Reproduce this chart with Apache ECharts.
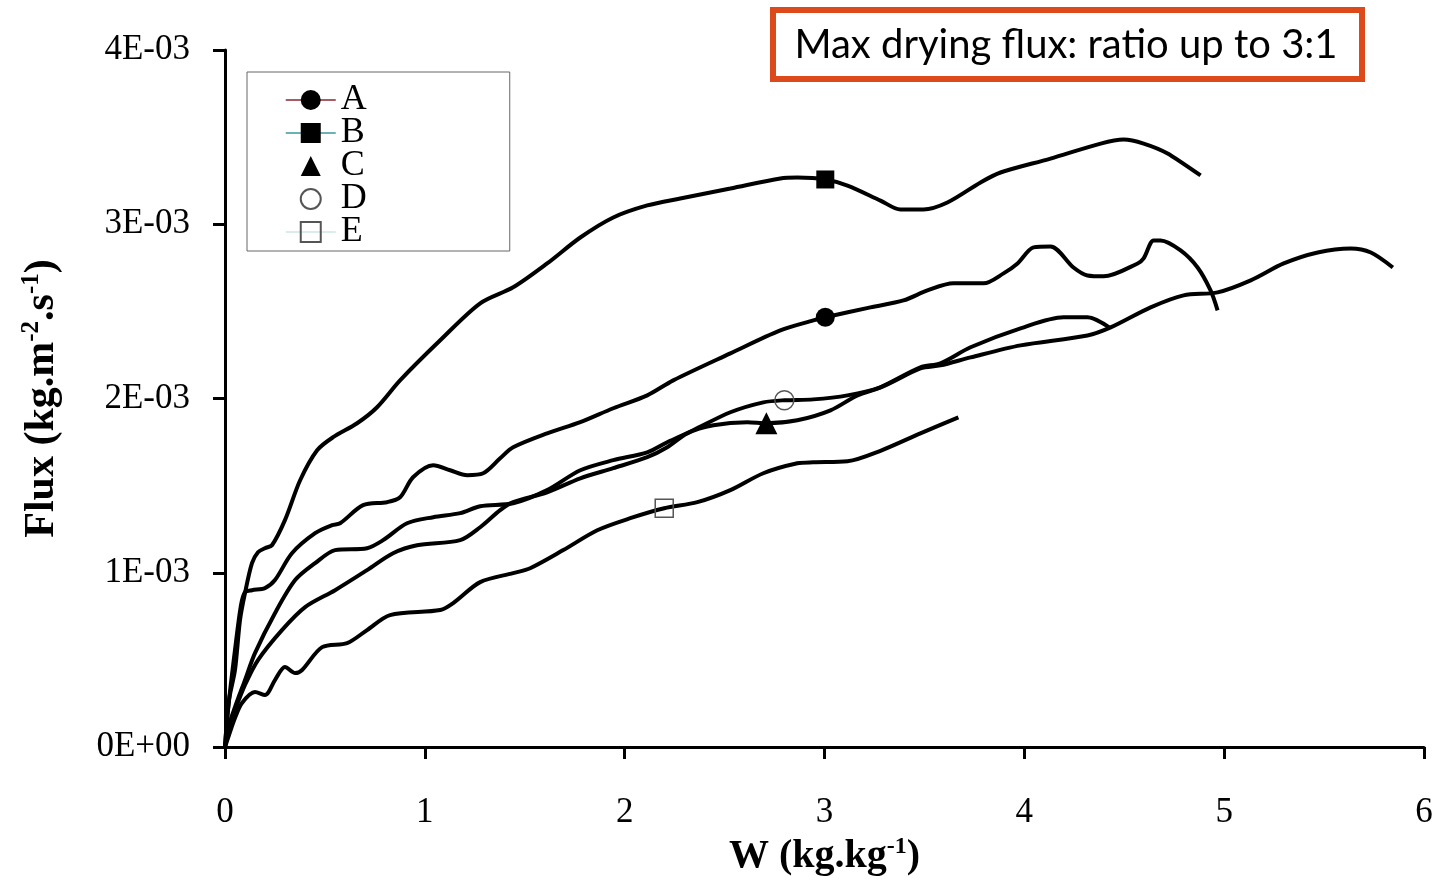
<!DOCTYPE html>
<html><head><meta charset="utf-8">
<script src="https://cdn.jsdelivr.net/npm/echarts@6/dist/echarts.min.js"></script>
<style>html,body{margin:0;padding:0;background:#fff}#chart{width:1439px;height:882px}</style>
</head><body><div id="chart"></div>
<script>
const seriesNames = ['A', 'B', 'C', 'D', 'E'];
const xTicks = [0, 1, 2, 3, 4, 5, 6];
const yTickLabels = ['0E+00', '1E-03', '2E-03', '3E-03', '4E-03'];
const titleText = 'Max drying flux: ratio up to 3:1';

// W (kg/kg), Flux (kg m-2 s-1)
const curveA = [[0,0],[0.015,0.212e-3],[0.05,0.556e-3],[0.08,0.814e-3],[0.100,0.889e-3],[0.135,0.900e-3],[0.200,0.912e-3],[0.250,0.958e-3],[0.335,1.112e-3],[0.451,1.227e-3],[0.536,1.273e-3],[0.576,1.284e-3],[0.691,1.388e-3],[0.811,1.405e-3],[0.876,1.433e-3],[0.941,1.548e-3],[1.042,1.617e-3],[1.127,1.588e-3],[1.212,1.560e-3],[1.292,1.571e-3],[1.377,1.657e-3],[1.442,1.720e-3],[1.612,1.800e-3],[1.778,1.864e-3],[1.943,1.944e-3],[2.113,2.018e-3],[2.243,2.104e-3],[2.529,2.259e-3],[2.779,2.391e-3],[2.944,2.448e-3],[3.004,2.466e-3],[3.230,2.523e-3],[3.395,2.563e-3],[3.515,2.620e-3],[3.645,2.661e-3],[3.796,2.661e-3],[3.896,2.718e-3],[3.966,2.775e-3],[4.046,2.867e-3],[4.131,2.873e-3],[4.246,2.752e-3],[4.316,2.706e-3],[4.397,2.701e-3],[4.567,2.775e-3],[4.597,2.804e-3],[4.647,2.907e-3],[4.682,2.907e-3],[4.782,2.850e-3],[4.867,2.752e-3],[4.932,2.620e-3],[4.967,2.506e-3]];
const curveB = [[0,0],[0.020,0.269e-3],[0.050,0.442e-3],[0.075,0.728e-3],[0.100,0.883e-3],[0.135,1.055e-3],[0.165,1.118e-3],[0.200,1.141e-3],[0.235,1.158e-3],[0.300,1.302e-3],[0.376,1.531e-3],[0.461,1.703e-3],[0.541,1.778e-3],[0.661,1.858e-3],[0.761,1.950e-3],[0.876,2.104e-3],[1.077,2.334e-3],[1.277,2.546e-3],[1.442,2.638e-3],[1.612,2.775e-3],[1.778,2.924e-3],[1.943,3.039e-3],[2.113,3.108e-3],[2.278,3.148e-3],[2.529,3.205e-3],[2.779,3.263e-3],[2.864,3.268e-3],[3.004,3.257e-3],[3.115,3.222e-3],[3.280,3.136e-3],[3.380,3.085e-3],[3.495,3.085e-3],[3.615,3.125e-3],[3.781,3.240e-3],[3.881,3.297e-3],[4.131,3.377e-3],[4.382,3.463e-3],[4.497,3.486e-3],[4.597,3.463e-3],[4.717,3.406e-3],[4.882,3.280e-3]];
const curveC = [[0,0],[0.020,0.109e-3],[0.050,0.212e-3],[0.100,0.356e-3],[0.165,0.499e-3],[0.285,0.671e-3],[0.401,0.803e-3],[0.551,0.900e-3],[0.711,1.015e-3],[0.841,1.112e-3],[0.961,1.158e-3],[1.177,1.187e-3],[1.277,1.261e-3],[1.377,1.359e-3],[1.442,1.405e-3],[1.612,1.462e-3],[1.778,1.542e-3],[1.943,1.600e-3],[2.113,1.663e-3],[2.213,1.720e-3],[2.313,1.800e-3],[2.444,1.846e-3],[2.614,1.864e-3],[2.709,1.858e-3],[2.864,1.875e-3],[3.030,1.932e-3],[3.165,2.018e-3],[3.280,2.064e-3],[3.480,2.179e-3],[3.580,2.202e-3],[3.731,2.294e-3],[3.981,2.402e-3],[4.196,2.466e-3],[4.316,2.466e-3],[4.432,2.402e-3]];
const curveD = [[0,0],[0.020,0.126e-3],[0.050,0.229e-3],[0.100,0.384e-3],[0.150,0.539e-3],[0.250,0.768e-3],[0.351,0.958e-3],[0.451,1.055e-3],[0.551,1.130e-3],[0.711,1.141e-3],[0.791,1.187e-3],[0.911,1.284e-3],[1.042,1.319e-3],[1.177,1.342e-3],[1.277,1.382e-3],[1.442,1.399e-3],[1.612,1.474e-3],[1.778,1.588e-3],[1.943,1.646e-3],[2.113,1.691e-3],[2.213,1.749e-3],[2.343,1.818e-3],[2.529,1.921e-3],[2.694,1.978e-3],[2.799,1.990e-3],[2.944,1.995e-3],[3.115,2.018e-3],[3.280,2.064e-3],[3.480,2.173e-3],[3.580,2.190e-3],[3.731,2.236e-3],[3.981,2.305e-3],[4.316,2.362e-3],[4.432,2.408e-3],[4.632,2.523e-3],[4.797,2.592e-3],[4.967,2.609e-3],[5.133,2.678e-3],[5.298,2.775e-3],[5.468,2.838e-3],[5.633,2.861e-3],[5.734,2.838e-3],[5.844,2.752e-3]];
const curveE = [[0,0],[0.020,0.069e-3],[0.050,0.166e-3],[0.085,0.252e-3],[0.150,0.315e-3],[0.200,0.298e-3],[0.250,0.384e-3],[0.300,0.459e-3],[0.351,0.424e-3],[0.386,0.442e-3],[0.486,0.573e-3],[0.611,0.596e-3],[0.711,0.671e-3],[0.826,0.757e-3],[1.077,0.786e-3],[1.142,0.826e-3],[1.277,0.946e-3],[1.442,0.998e-3],[1.527,1.026e-3],[1.693,1.130e-3],[1.863,1.244e-3],[2.028,1.313e-3],[2.198,1.370e-3],[2.364,1.405e-3],[2.529,1.474e-3],[2.694,1.571e-3],[2.864,1.628e-3],[2.944,1.634e-3],[3.115,1.640e-3],[3.280,1.700e-3],[3.480,1.800e-3],[3.670,1.892e-3]];
const curves = [curveA, curveB, curveC, curveD, curveE];
// W value at which each series' marker is drawn
const markerW = [3.004, 3.004, 2.709, 2.799, 2.198];

const symbols = ['circle', 'rect', 'triangle', 'circle', 'rect'];
const markerSizes = [19, 18, 22, 19, 18];
const itemStyles = [
  {color: '#000'},
  {color: '#000'},
  {color: '#000'},
  {color: 'rgba(255,255,255,0)', borderColor: '#555', borderWidth: 1.5},
  {color: 'rgba(255,255,255,0)', borderColor: '#555', borderWidth: 1.5}
];
const legendLines = [
  {color: '#8a2432', width: 1.5},
  {color: '#3a9a9a', width: 1.5},
  {color: 'rgba(0,0,0,0)', width: 1},
  {color: 'rgba(0,0,0,0)', width: 1},
  {color: '#cfe6e6', width: 1.5}
];

const serif = 'Liberation Serif, Times New Roman, serif';

const series = seriesNames.map((name, i) => {
  const mIdx = curves[i].findIndex(p => p[0] === markerW[i]);
  return {
    name: name,
    type: 'line',
    data: curves[i],
    smooth: 0.3,
    symbol: symbols[i],
    showSymbol: true,
    showAllSymbol: true,
    symbolSize: (val, params) => params.dataIndex === mIdx ? markerSizes[i] : 0,
    itemStyle: itemStyles[i],
    lineStyle: {color: '#000', width: 4},
    emphasis: {disabled: true},
    silent: true,
    animation: false,
    z: 2
  };
});

const chart = echarts.init(document.getElementById('chart'), null, {renderer: 'canvas'});
chart.setOption({
  backgroundColor: '#fff',
  animation: false,
  grid: {left: 225, right: 15, top: 50, bottom: 135, containLabel: false, outerBoundsMode: 'none'},
  legend: {
    orient: 'vertical',
    left: 247, top: 72,
    padding: [10, 143, 1, 38],
    itemWidth: 50, itemHeight: 25, itemGap: -3,
    borderColor: '#666', borderWidth: 1,
    backgroundColor: '#fff',
    selectedMode: false,
    textStyle: {fontFamily: serif, fontSize: 36, color: '#000'},
    data: seriesNames.map((n, i) => ({name: n, lineStyle: legendLines[i]}))
  },
  xAxis: {
    type: 'value', min: xTicks[0], max: xTicks[xTicks.length - 1], interval: 1,
    splitLine: {show: false},
    axisLine: {lineStyle: {color: '#000', width: 3}},
    axisTick: {show: true, inside: false, length: 12, lineStyle: {color: '#000', width: 3}},
    axisLabel: {fontFamily: serif, fontSize: 35, color: '#000', margin: 48},
    name: '{b|W (kg.kg}{s|-1}{b|)}',
    nameLocation: 'middle', nameGap: 86,
    nameTextStyle: {
      rich: {
        b: {fontFamily: serif, fontSize: 40, fontWeight: 'bold', color: '#000', lineHeight: 44},
        s: {fontFamily: serif, fontSize: 24, fontWeight: 'bold', color: '#000', lineHeight: 22, verticalAlign: 'top'}
      }
    }
  },
  yAxis: {
    type: 'value', min: 0, max: 0.004, interval: 0.001,
    splitLine: {show: false},
    axisLine: {show: true, lineStyle: {color: '#000', width: 3}},
    axisTick: {show: true, inside: false, length: 12, lineStyle: {color: '#000', width: 3}},
    axisLabel: {
      fontFamily: serif, fontSize: 35, color: '#000', margin: 35,
      formatter: v => yTickLabels[Math.round(v * 1000)]
    },
    name: '{b|Flux (kg.m}{s|-2}{b|.s}{s|-1}{b|)}',
    nameLocation: 'middle', nameGap: 160,
    nameTextStyle: {
      rich: {
        b: {fontFamily: serif, fontSize: 42, fontWeight: 'bold', color: '#000', lineHeight: 46},
        s: {fontFamily: serif, fontSize: 25, fontWeight: 'bold', color: '#000', lineHeight: 22, verticalAlign: 'top'}
      }
    }
  },
  graphic: [
    {
      type: 'rect', z: 10,
      shape: {x: 773, y: 10, width: 589, height: 69},
      style: {fill: '#fff', stroke: '#dc4a1c', lineWidth: 6}
    },
    {
      type: 'text', z: 11, x: 1066, y: 45,
      style: {text: titleText, align: 'center', verticalAlign: 'middle',
              fontFamily: 'Lato, Open Sans, sans-serif', fontSize: 40, fill: '#000'}
    }
  ],
  series: series
});
</script>
</body></html>
